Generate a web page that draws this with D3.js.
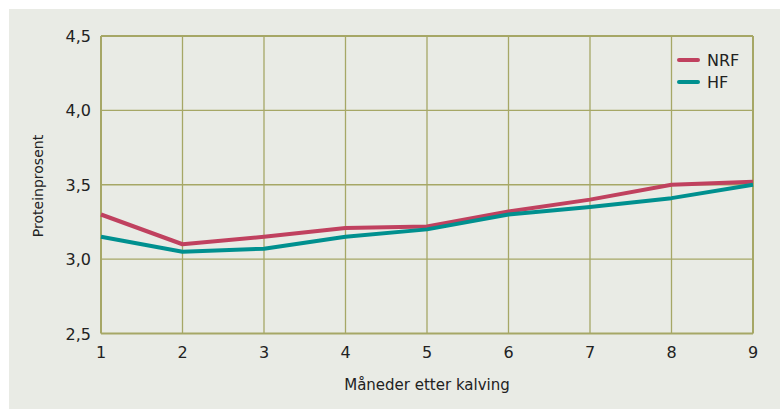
<!DOCTYPE html>
<html>
<head>
<meta charset="utf-8">
<script src="https://cdn.jsdelivr.net/npm/d3@7"></script>
<style>
  body { margin: 0; background: #fff; }
  text { font-family: "DejaVu Sans", sans-serif; fill: #222; }
</style>
</head>
<body>
<svg id="chart" width="780" height="409"></svg>
<script>
// months after calving
var months = [1, 2, 3, 4, 5, 6, 7, 8, 9];
var nrf = [3.30, 3.10, 3.15, 3.21, 3.22, 3.32, 3.40, 3.50, 3.52];
var hf  = [3.15, 3.05, 3.07, 3.15, 3.20, 3.30, 3.35, 3.41, 3.50];
var yTicks = [2.5, 3.0, 3.5, 4.0, 4.5];
var seriesNames = ["NRF", "HF"];
var seriesColors = ["#c0415f", "#00908f"];

var svg = d3.select("#chart");
var grid = "#a6a766";

// panel background
svg.append("rect")
    .attr("x", 9).attr("y", 9)
    .attr("width", 771).attr("height", 400)
    .attr("fill", "#e9ebe5");

var margin = {left: 101, right: 753, top: 36, bottom: 333.5};

var x = d3.scaleLinear().domain([1, 9]).range([margin.left, margin.right]);
var y = d3.scaleLinear().domain([2.5, 4.5]).range([margin.bottom, margin.top]);

var fmt = function(d) { return d3.format(".1f")(d).replace(".", ","); };

// vertical grid lines
svg.append("g").selectAll("line")
    .data(months)
    .enter().append("line")
    .attr("x1", function(d) { return x(d); })
    .attr("x2", function(d) { return x(d); })
    .attr("y1", margin.top)
    .attr("y2", margin.bottom)
    .attr("stroke", grid)
    .attr("stroke-width", function(d) { return (d == 1 || d == 9) ? 2 : 1.3; });

// horizontal grid lines
svg.append("g").selectAll("line")
    .data(yTicks)
    .enter().append("line")
    .attr("x1", margin.left)
    .attr("x2", margin.right)
    .attr("y1", function(d) { return y(d); })
    .attr("y2", function(d) { return y(d); })
    .attr("stroke", grid)
    .attr("stroke-width", function(d) { return (d == 2.5 || d == 4.5) ? 2 : 1.3; });

// y tick labels
svg.append("g").selectAll("text")
    .data(yTicks)
    .enter().append("text")
    .attr("x", 91)
    .attr("y", function(d) { return y(d) + 6; })
    .attr("text-anchor", "end")
    .style("font-size", "16px")
    .text(fmt);

// x tick labels
svg.append("g").selectAll("text")
    .data(months)
    .enter().append("text")
    .attr("x", function(d) { return x(d); })
    .attr("y", 358)
    .attr("text-anchor", "middle")
    .style("font-size", "16px")
    .text(function(d) { return d; });

// axis titles
svg.append("text")
    .attr("transform", "translate(43,186) rotate(-90)")
    .attr("text-anchor", "middle")
    .style("font-size", "14px")
    .text("Proteinprosent");

svg.append("text")
    .attr("x", (margin.left + margin.right) / 2)
    .attr("y", 390)
    .attr("text-anchor", "middle")
    .style("font-size", "15px")
    .text("Måneder etter kalving");

var line = d3.line()
    .x(function(d, i) { return x(months[i]); })
    .y(function(d) { return y(d); });

[nrf, hf].forEach(function(s, i) {
    svg.append("path")
        .datum(s)
        .attr("d", line)
        .attr("fill", "none")
        .attr("stroke", seriesColors[i])
        .attr("stroke-width", 4)
        .attr("stroke-linejoin", "round");
});

// legend
var legend = svg.append("g").selectAll("g")
    .data(seriesNames)
    .enter().append("g")
    .attr("transform", function(d, i) { return "translate(679," + (60 + i * 22) + ")"; });

legend.append("line")
    .attr("x1", 0).attr("x2", 19)
    .attr("stroke", function(d, i) { return seriesColors[i]; })
    .attr("stroke-width", 4)
    .attr("stroke-linecap", "round");

legend.append("text")
    .attr("x", 28)
    .attr("y", 6)
    .style("font-size", "16px")
    .text(function(d) { return d; });
</script>
</body>
</html>
